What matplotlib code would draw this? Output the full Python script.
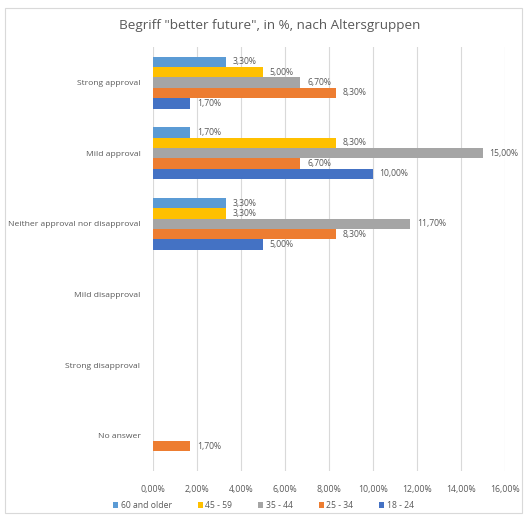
import matplotlib
matplotlib.use("Agg")
import matplotlib.pyplot as plt
from matplotlib.patches import Rectangle
import numpy as np

categories = ["Strong approval", "Mild approval", "Neither approval nor disapproval",
              "Mild disapproval", "Strong disapproval", "No answer"]
series = ["60 and older", "45 - 59", "35 - 44", "25 - 34", "18 - 24"]
v60 = [3.3, 1.7, 3.3, 0, 0, 0]
v45 = [5.0, 8.3, 3.3, 0, 0, 0]
v35 = [6.7, 15.0, 11.7, 0, 0, 0]
v25 = [8.3, 6.7, 8.3, 0, 0, 1.7]
v18 = [1.7, 10.0, 5.0, 0, 0, 0]
values = [v60, v45, v35, v25, v18]
colors = ["#5B9BD5", "#FFC000", "#A5A5A5", "#ED7D31", "#4472C4"]
xticks = [0, 2, 4, 6, 8, 10, 12, 14, 16]

plt.rcParams['font.family'] = ['Open Sans', 'DejaVu Sans']
fig = plt.figure(figsize=(5.27, 5.18), dpi=100)
ax = fig.add_axes([0.2903, 0.0907, 0.668, 0.818])

n = len(series)
h = 0.147
y = np.arange(len(categories))
for i, (s, vals, c) in enumerate(zip(series, values, colors)):
    pos = y + (i - (n - 1) / 2) * h
    ax.barh(pos, vals, height=h, color=c, label=s)
    for p, v in zip(pos, vals):
        if v > 0:
            ax.text(v + 0.3, p, f"{v:.2f}%".replace(".", ","), va="center", ha="left",
                    fontsize=6.2, color="#595959")

ax.set_ylim(len(categories) - 0.5, -0.5)
ax.set_xlim(0, 16)
ax.set_xticks(xticks)
ax.set_xticklabels([f"{t:.2f}%".replace(".", ",") for t in xticks], fontsize=6.3, color="#595959")
ax.set_yticks(y)
ax.set_yticklabels(categories, fontsize=6.1, color="#595959")
ax.tick_params(length=0, pad=9)
ax.tick_params(axis='x', pad=10)
for sp in ax.spines.values():
    sp.set_visible(False)
ax.grid(axis='x', color="#D9D9D9", linewidth=0.8)
ax.set_axisbelow(True)

fig.text(0.512, 0.950, 'Begriff "better future", in %, nach Altersgruppen',
         ha="center", va="center", fontsize=9.7, color="#595959")

leg = fig.legend(loc="center", bbox_to_anchor=(0.50, 0.024), ncol=5, frameon=False,
                 fontsize=6.2, handlelength=0.6, handleheight=0.6, columnspacing=3.0,
                 handletextpad=0.3)
for t in leg.get_texts():
    t.set_color("#595959")

fig.patches.append(Rectangle((0.01, 0.01), 0.98, 0.975, transform=fig.transFigure,
                             fill=False, edgecolor="#D9D9D9", linewidth=0.8))
fig.savefig("out.png", dpi=100)
